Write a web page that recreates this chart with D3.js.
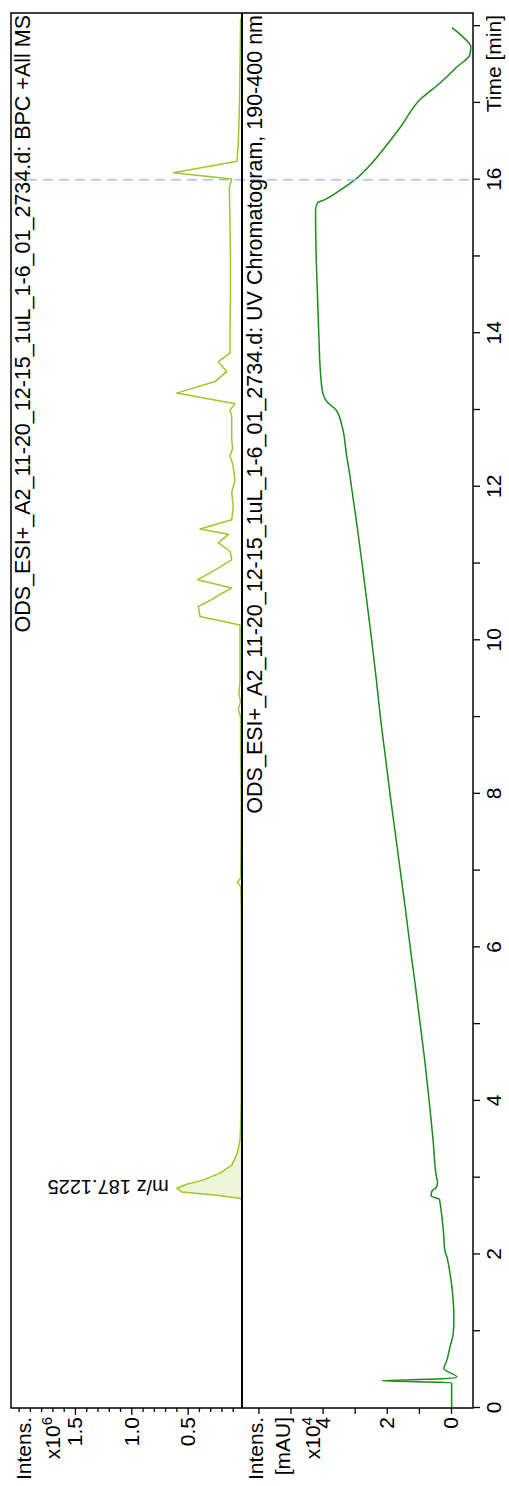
<!DOCTYPE html>
<html>
<head>
<meta charset="utf-8">
<script src="https://cdn.jsdelivr.net/npm/d3@7"></script>
<style>
  html, body { margin: 0; padding: 0; background: #fff; }
  svg text { font-family: Arial, "Liberation Sans", sans-serif; fill: #000; }
</style>
</head>
<body>
<svg id="chart" width="509" height="1486"></svg>
<script>
// ---- Data -------------------------------------------------------------
const timeTickValues = d3.range(0, 19, 1);          // minutes
const timeLabelValues = [0, 2, 4, 6, 8, 10, 12, 14, 16];
const msTickValues = d3.range(1, 21).map(d => d / 10); // x10^6 counts
const msLabelValues = [0.5, 1.0, 1.5];
const uvTickValues = [0, 1, 2, 3, 4, 5, 6];           // x10^4 mAU
const uvLabelValues = [0, 2, 4];

// BPC +All MS, time [min]
const msTime = [0.0, 0.5, 1.0, 1.5, 2.0, 2.5, 2.70, 2.73, 2.77, 2.815, 2.863, 2.915, 2.968, 3.06, 3.163, 3.32, 3.49, 3.68,
  4.0, 4.5, 5.0, 5.5, 6.0, 6.5, 6.8, 6.85, 6.9, 7.5, 8.0, 8.5, 9.0, 9.1, 9.2, 9.3, 9.48, 9.8, 10.2,
  10.31, 10.44, 10.53, 10.61, 10.68, 10.79, 10.92, 11.05, 11.16, 11.27, 11.38, 11.45, 11.57, 11.74, 11.92, 12.09,
  12.3, 12.4, 12.5, 12.61, 12.92, 13.0, 13.08, 13.22, 13.37, 13.5, 13.63, 13.74, 14.04, 14.5, 15.0, 15.5, 15.9, 16.01,
  16.09, 16.24, 16.5, 17.0, 17.5, 18.1];
// intensity x10^6
const msIntensity = [0.02, 0.02, 0.02, 0.02, 0.02, 0.02, 0.02, 0.029, 0.242, 0.553, 0.597, 0.508, 0.364, 0.213, 0.109, 0.059, 0.035, 0.03,
  0.025, 0.025, 0.025, 0.025, 0.025, 0.025, 0.03, 0.06, 0.03, 0.025, 0.025, 0.03, 0.03, 0.05, 0.03, 0.045, 0.035, 0.035, 0.035,
  0.39, 0.405, 0.287, 0.198, 0.109, 0.411, 0.25, 0.109, 0.124, 0.228, 0.139, 0.39, 0.109, 0.095, 0.109, 0.08,
  0.1, 0.125, 0.1, 0.109, 0.109, 0.124, 0.08, 0.597, 0.257, 0.154, 0.228, 0.124, 0.124, 0.12, 0.12, 0.125, 0.13, 0.109,
  0.627, 0.062, 0.05, 0.04, 0.035, 0.03];

// UV Chromatogram 190-400 nm, time [min]
const uvTime = [0.0, 0.30, 0.33, 0.355, 0.38, 0.404, 0.51, 0.62, 0.80, 0.97, 1.18, 1.49, 1.75, 1.97, 2.05, 2.32, 2.67,
  2.72, 2.76, 2.82, 2.88, 2.95, 3.0, 3.5, 4.0, 4.5, 5.0, 5.5, 6.0, 6.5, 7.0, 7.5, 8.0, 8.5, 9.0, 9.5, 10.0, 10.5, 11.0,
  11.5, 12.0, 12.2, 12.4, 12.8, 13.0, 13.1, 13.2, 13.4, 14.0, 14.5, 15.0, 15.6, 15.7, 15.74, 15.85, 16.0, 16.2, 16.39,
  16.7, 17.04, 17.26, 17.47, 17.63, 17.73, 17.86, 17.98];
// absorbance x10^4 mAU
const uvAbsorbance = [-0.02, -0.02, -0.02, 2.16, 0.3, -0.18, 0.22, 0.13, 0.03, -0.07, -0.09, -0.05, 0.03, 0.13, 0.19, 0.24, 0.34,
  0.36, 0.62, 0.60, 0.45, 0.42, 0.45, 0.56, 0.68, 0.81, 0.96, 1.11, 1.27, 1.42, 1.58, 1.74, 1.9, 2.05, 2.2, 2.33, 2.47, 2.62, 2.77,
  2.93, 3.1, 3.17, 3.25, 3.4, 3.58, 3.85, 3.98, 4.05, 4.12, 4.16, 4.2, 4.22, 4.15, 3.93, 3.5, 2.99, 2.5, 2.12,
  1.55, 0.97, 0.34, -0.19, -0.59, -0.62, -0.37, -0.03];

const msFillRange = [2.70, 3.70];
const peakLabelTime = 2.863;
const peakLabelIntensity = 0.597;
const peakLabelText = "m/z 187.1225";
const markerTime = 16.0;

const msTitle = "ODS_ESI+_A2_11-20_12-15_1uL_1-6_01_2734.d: BPC +All MS";
const uvTitle = "ODS_ESI+_A2_11-20_12-15_1uL_1-6_01_2734.d: UV Chromatogram, 190-400 nm";

// ---- Layout (chart drawn landscape, then turned upright) -------------
const W = 1486;
const plot = { left: 78, right: 1473, top: 11, mid: 242, bottom: 473 };
const fs = 21;
const fsTitle = 21.5;

const svg = d3.select("#chart");
const g = svg.append("g").attr("transform", `translate(0,${W}) rotate(-90)`);

const x = d3.scaleLinear().domain([0, (plot.right - plot.left) / 76.77]).range([plot.left, plot.right]);
const yMS = d3.scaleLinear().domain([0, 2]).range([244, 18.6]);
const yUV = d3.scaleLinear().domain([0, 4]).range([451, 322.6]);

const defs = svg.append("defs");
defs.append("clipPath").attr("id", "clipMS").append("rect")
  .attr("x", plot.left).attr("y", plot.top).attr("width", plot.right - plot.left).attr("height", plot.mid - plot.top);
defs.append("clipPath").attr("id", "clipUV").append("rect")
  .attr("x", plot.left).attr("y", plot.mid).attr("width", plot.right - plot.left).attr("height", plot.bottom - plot.mid);

// ---- Traces ----------------------------------------------------------
const msData = msTime.map((t, i) => ({ t, v: msIntensity[i] }));
const uvData = uvTime.map((t, i) => ({ t, v: uvAbsorbance[i] }));

const msPanel = g.append("g").attr("clip-path", "url(#clipMS)");
msPanel.append("path")
  .datum(msData.filter(d => d.t >= msFillRange[0] && d.t <= msFillRange[1]))
  .attr("fill", "#eef4d8")
  .attr("d", d3.area().x(d => x(d.t)).y0(plot.mid).y1(d => yMS(d.v)));
msPanel.append("path")
  .datum(msData)
  .attr("fill", "none").attr("stroke", "#9cc82a").attr("stroke-width", 1.5)
  .attr("stroke-linejoin", "round")
  .attr("d", d3.line().x(d => x(d.t)).y(d => yMS(d.v)));

const uvPanel = g.append("g").attr("clip-path", "url(#clipUV)");
uvPanel.append("path")
  .datum(uvData)
  .attr("fill", "none").attr("stroke", "#1a8c1a").attr("stroke-width", 1.5)
  .attr("stroke-linejoin", "round")
  .attr("d", d3.line().curve(d3.curveMonotoneX).x(d => x(d.t)).y(d => yUV(d.v)));

// Time marker
g.append("line")
  .attr("x1", x(markerTime)).attr("x2", x(markerTime))
  .attr("y1", plot.top).attr("y2", plot.bottom)
  .attr("stroke", "#9ec4ee").attr("stroke-width", 1.5).attr("stroke-dasharray", "10,6");

// Peak label
g.append("text")
  .attr("transform", `translate(${x(peakLabelTime) + 8},${yMS(peakLabelIntensity) - 8}) rotate(-90)`)
  .attr("font-size", 20).attr("text-anchor", "start")
  .text(peakLabelText);

// ---- Frame -----------------------------------------------------------
g.append("rect").attr("x", plot.left).attr("y", plot.top)
  .attr("width", plot.right - plot.left).attr("height", plot.bottom - plot.top)
  .attr("fill", "none").attr("stroke", "#000").attr("stroke-width", 1.5);
g.append("line").attr("x1", plot.left).attr("x2", plot.right).attr("y1", plot.mid).attr("y2", plot.mid)
  .attr("stroke", "#000").attr("stroke-width", 2);

// ---- Axes ------------------------------------------------------------
const timeAxis = d3.axisBottom(x).tickValues(timeTickValues).tickSize(7).tickPadding(6)
  .tickFormat(d => timeLabelValues.includes(d) ? d : "");
const ta = g.append("g").attr("transform", `translate(0,${plot.bottom})`).call(timeAxis);

const isMsLabel = d => msLabelValues.some(v => Math.abs(v - d) < 1e-6);
const msAxis = d3.axisLeft(yMS).tickValues(msTickValues).tickSize(5).tickPadding(4)
  .tickFormat(d => isMsLabel(d) ? d3.format(".1f")(d) : "");
const ma = g.append("g").attr("transform", `translate(${plot.left},0)`).call(msAxis);
ma.selectAll(".tick line").attr("x2", d => isMsLabel(d) ? -7 : -4);

const uvAxis = d3.axisLeft(yUV).tickValues(uvTickValues).tickSize(6).tickPadding(3)
  .tickFormat(d => uvLabelValues.includes(d) ? d : "");
const ua = g.append("g").attr("transform", `translate(${plot.left},0)`).call(uvAxis);

[ta, ma, ua].forEach(a => {
  a.select(".domain").remove();
  a.selectAll(".tick line").attr("stroke", "#000").attr("stroke-width", 1.3);
  a.selectAll("text").attr("font-size", fs).attr("font-family", "Arial, 'Liberation Sans', sans-serif");
});

// ---- Axis titles -----------------------------------------------------
g.append("text").attr("x", 1471).attr("y", plot.bottom + 13).attr("dy", "0.71em")
  .attr("text-anchor", "end").attr("font-size", fs).text("Time [min]");

const yTitle = (yBase, text) => g.append("text").attr("x", 69).attr("y", yBase)
  .attr("text-anchor", "end").attr("font-size", fs).text(text);
yTitle(31, "Intens.");
const ms10 = yTitle(60, "x10");
ms10.append("tspan").attr("dy", -8).attr("font-size", 15).text("6");
yTitle(263, "Intens.");
yTitle(290, "[mAU]");
const uv10 = yTitle(320, "x10");
uv10.append("tspan").attr("dy", -8).attr("font-size", 15).text("4");

// ---- Panel titles ----------------------------------------------------
g.append("text").attr("x", 1471).attr("y", plot.top + 4).attr("dy", "0.71em")
  .attr("text-anchor", "end").attr("font-size", fsTitle).text(msTitle);
g.append("text").attr("x", 1471).attr("y", plot.mid + 5).attr("dy", "0.71em")
  .attr("text-anchor", "end").attr("font-size", fsTitle).text(uvTitle);
</script>
</body>
</html>
